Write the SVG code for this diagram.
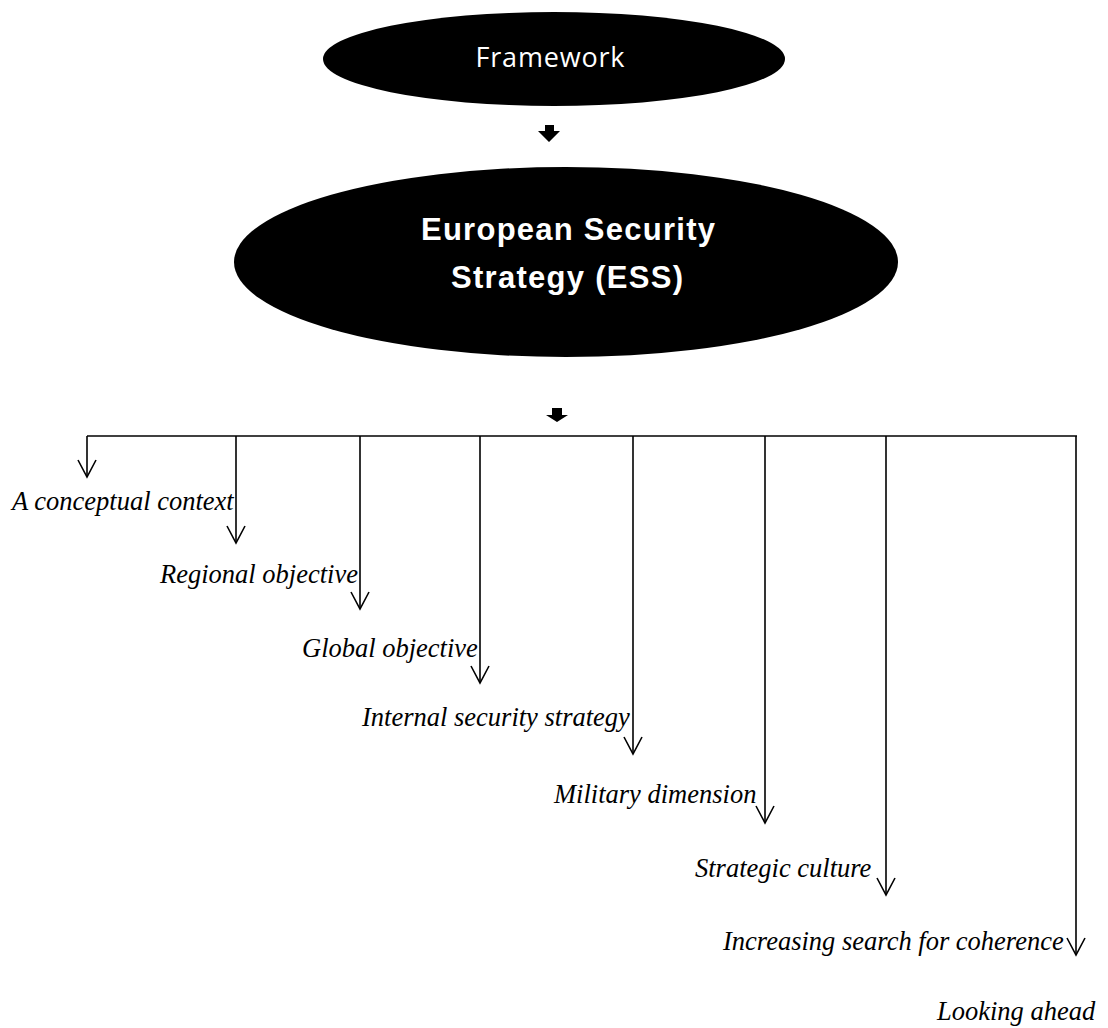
<svg xmlns="http://www.w3.org/2000/svg" width="1108" height="1028" viewBox="0 0 1108 1028">
<defs>
<style>
.node{fill:#000}
.fw{font-family:"Open Sans","Liberation Sans",sans-serif;font-size:27px;fill:#fff}
.ess{font-family:"Liberation Sans",Arial,sans-serif;font-size:31px;font-weight:bold;fill:#fff}
.lbl{font-family:"Liberation Serif","Times New Roman",serif;font-style:italic;font-size:26.5px;fill:#000}
.conn{stroke:#000;stroke-width:1.6;fill:none}
.blk{fill:#000}
</style>
<marker id="vee" markerUnits="userSpaceOnUse" viewBox="-18 -10 20 20" refX="0" refY="0" markerWidth="20" markerHeight="20" orient="auto">
<path d="M-17,-9 L0,0 L-17,9" fill="none" stroke="#000" stroke-width="1.6"/>
</marker>
</defs>
<rect width="1108" height="1028" fill="#fff"/>
<g id="framework">
<ellipse class="node" cx="554" cy="59" rx="231" ry="47"/>
<text class="fw" x="550" y="67" text-anchor="middle" textLength="149" lengthAdjust="spacing">Framework</text>
</g>
<g id="ess">
<ellipse class="node" cx="566" cy="262" rx="332" ry="95"/>
<text class="ess" x="568" y="240" text-anchor="middle" textLength="294" lengthAdjust="spacing">European Security</text>
<text class="ess" x="567" y="288" text-anchor="middle" textLength="232" lengthAdjust="spacing">Strategy (ESS)</text>
</g>
<g id="connectors">
<path class="blk" d="M545,125 H554 V131 H560 L549,142 L538,131 H545 Z"/>
<path class="blk" d="M552,408 H562 V415 H568 L557,422 L546,415 H552 Z"/>
<path class="conn" d="M87,436 H1077"/>
<line class="conn" x1="87" y1="436" x2="87" y2="477" marker-end="url(#vee)"/>
<line class="conn" x1="236" y1="436" x2="236" y2="543" marker-end="url(#vee)"/>
<line class="conn" x1="360" y1="436" x2="360" y2="609" marker-end="url(#vee)"/>
<line class="conn" x1="480" y1="436" x2="480" y2="683" marker-end="url(#vee)"/>
<line class="conn" x1="633" y1="436" x2="633" y2="754" marker-end="url(#vee)"/>
<line class="conn" x1="765" y1="436" x2="765" y2="823" marker-end="url(#vee)"/>
<line class="conn" x1="886" y1="436" x2="886" y2="895" marker-end="url(#vee)"/>
<line class="conn" x1="1076" y1="436" x2="1076" y2="955" marker-end="url(#vee)"/>
</g>
<g id="label-conceptual"><text class="lbl" x="12" y="510">A conceptual context</text></g>
<g id="label-regional"><text class="lbl" x="160" y="583">Regional objective</text></g>
<g id="label-global"><text class="lbl" x="302" y="657">Global objective</text></g>
<g id="label-internal"><text class="lbl" x="362" y="726">Internal security strategy</text></g>
<g id="label-military"><text class="lbl" x="554" y="803">Military dimension</text></g>
<g id="label-culture"><text class="lbl" x="695" y="877">Strategic culture</text></g>
<g id="label-coherence"><text class="lbl" x="723" y="950">Increasing search for coherence</text></g>
<g id="label-ahead"><text class="lbl" x="937" y="1020">Looking ahead</text></g>
</svg>
